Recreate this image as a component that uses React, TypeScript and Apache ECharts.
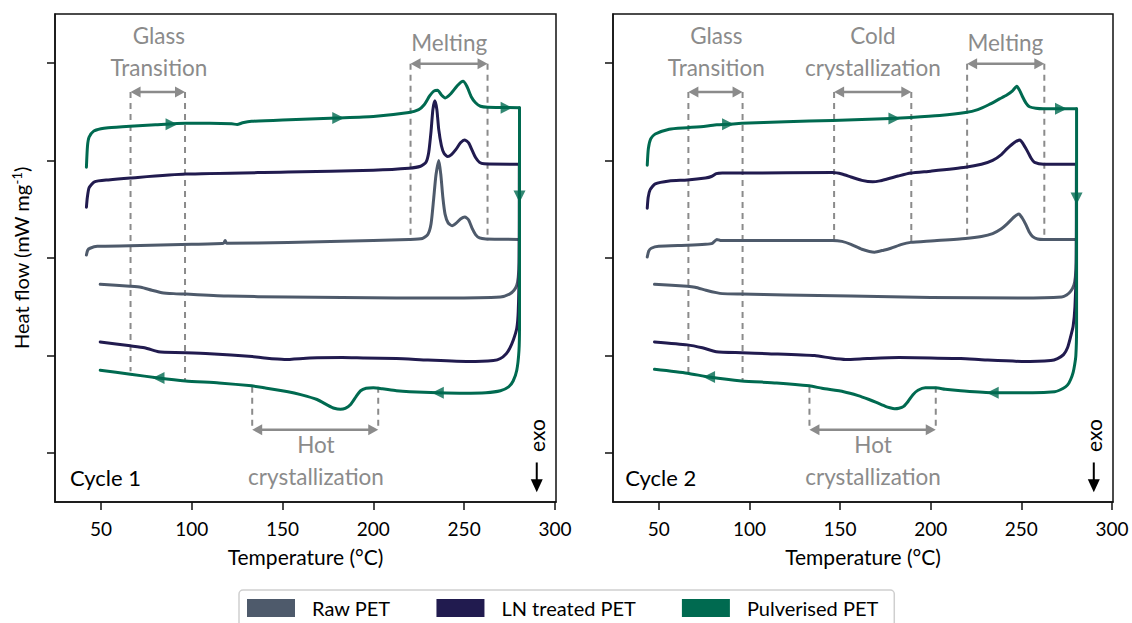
import { useEffect, useRef } from 'react';
import * as echarts from 'echarts';

// DSC traces: [temperature °C, heat flow (offset, a.u.)]
const SAMPLES = ['Raw PET', 'LN treated PET', 'Pulverised PET'];
const COLORS = ['#4e5a6b', '#211b4f', '#006a50'];
const X_TICKS = [50, 100, 150, 200, 250, 300];
const Y_TICKS = [0, 1, 2, 3, 4];

// ---- Cycle 1 ----
const raw1Heat = [
  [42, 2.03], [42.7, 2.08], [44, 2.1], [48, 2.12], [66, 2.125], [100, 2.14], [117.5, 2.15], [118.4, 2.18],
  [119.2, 2.15], [153, 2.16], [200, 2.18], [219.6, 2.19], [227, 2.2], [230, 2.24], [231.8, 2.35], [233.2, 2.6],
  [234.5, 2.85], [236.1, 3.0], [237.2, 2.85], [238.3, 2.62], [239.5, 2.45], [241.2, 2.36], [243.4, 2.33],
  [245.5, 2.355], [248, 2.4], [250.4, 2.42], [252.5, 2.39], [254.5, 2.3], [256.3, 2.24], [258.5, 2.205],
  [262, 2.195], [280.4, 2.19],
];
const raw1Cool = [
  [280.4, 2.19], [280.3, 1.95], [279.8, 1.8], [279, 1.72], [277.5, 1.67], [275, 1.63], [270, 1.6], [240, 1.59],
  [212.7, 1.59], [153, 1.6], [120, 1.61], [96.6, 1.63], [90, 1.635], [83.6, 1.645], [78, 1.67], [72, 1.7],
  [66, 1.71], [49.6, 1.73],
];
const ln1Heat = [
  [42, 2.52], [42.5, 2.62], [43.5, 2.72], [46.4, 2.78], [54, 2.8], [66.2, 2.82], [96.6, 2.86], [153, 2.88],
  [200, 2.9], [219.6, 2.92], [226, 2.94], [229, 2.98], [230.5, 3.08], [231.8, 3.3], [232.8, 3.52], [233.9, 3.61],
  [235, 3.52], [236, 3.32], [237.5, 3.15], [239, 3.07], [241, 3.04], [243, 3.06], [245.4, 3.11], [248, 3.18],
  [250.4, 3.21], [252.5, 3.18], [254.5, 3.1], [256.3, 3.03], [258.5, 2.98], [261, 2.965], [280.4, 2.96],
];
const ln1Cool = [
  [280.4, 2.96], [280.3, 1.9], [279.8, 1.45], [279, 1.28], [277.1, 1.16], [275, 1.07], [273.2, 1.02], [270, 0.97],
  [266.2, 0.95], [252.4, 0.94], [230, 0.955], [212.7, 0.97], [195, 0.975], [182.9, 0.98], [165, 0.975],
  [151, 0.96], [140, 0.975], [133.3, 0.99], [110, 1.02], [96.6, 1.03], [85, 1.035], [81.7, 1.04], [74, 1.08],
  [66.2, 1.1], [49.6, 1.14],
];
const pul1Heat = [
  [42, 2.93], [42.6, 3.15], [43.5, 3.24], [46, 3.3], [50, 3.325], [54, 3.335], [66, 3.35], [80, 3.365],
  [96.6, 3.38], [110, 3.38], [122, 3.375], [125, 3.368], [128, 3.385], [133, 3.4], [150, 3.415], [180, 3.435],
  [200, 3.45], [219.6, 3.49], [225, 3.52], [228, 3.57], [231, 3.66], [233.3, 3.71], [235.4, 3.72],
  [237.5, 3.67], [239.6, 3.64], [242.5, 3.68], [246.5, 3.77], [249.4, 3.81], [251.5, 3.76], [254, 3.65],
  [256.3, 3.59], [259, 3.555], [263, 3.545], [280.5, 3.54],
];
const pul1Cool = [
  [280.5, 3.54], [280.5, 1.3], [280.2, 1.05], [279, 0.85], [277, 0.74], [274.5, 0.68], [270, 0.64], [262, 0.62],
  [250, 0.615], [235.5, 0.62], [220, 0.63], [212.7, 0.64], [205, 0.66], [200, 0.67], [196, 0.665], [193, 0.64],
  [190.5, 0.58], [187.5, 0.5], [184.5, 0.46], [181.9, 0.45], [178.5, 0.46], [175, 0.49], [169, 0.55],
  [160, 0.6], [153, 0.63], [140, 0.67], [133, 0.69], [115, 0.72], [96.6, 0.74], [81.7, 0.77], [66.2, 0.81],
  [49.6, 0.85],
];

// ---- Cycle 2 ----
const raw2Heat = [
  [43.6, 2.01], [44.4, 2.07], [45.8, 2.1], [49.9, 2.12], [65.7, 2.13], [75.7, 2.14], [79.5, 2.15], [82, 2.19],
  [84, 2.18], [100, 2.18], [146, 2.18], [151, 2.17], [156, 2.14], [162, 2.09], [169, 2.06], [174, 2.08],
  [178, 2.1], [184, 2.14], [189, 2.16], [200, 2.175], [219.2, 2.2], [228, 2.22], [234.2, 2.25], [239, 2.3],
  [242.2, 2.35], [246, 2.42], [248.7, 2.45], [250.5, 2.41], [252.3, 2.35], [254.3, 2.27], [256.3, 2.22],
  [259, 2.195], [262.3, 2.19], [280.4, 2.19],
];
const raw2Cool = [
  [280.4, 2.19], [280.3, 1.95], [279.8, 1.8], [279, 1.72], [277.3, 1.66], [275, 1.62], [272.3, 1.6], [250, 1.59],
  [200, 1.595], [156, 1.61], [120, 1.62], [95.7, 1.63], [85, 1.635], [81.7, 1.645], [76, 1.67], [70, 1.7],
  [65.7, 1.71], [47.6, 1.73],
];
const ln2Heat = [
  [43.6, 2.51], [44.1, 2.62], [45.2, 2.7], [48, 2.76], [55.7, 2.79], [65.7, 2.8], [75.7, 2.82], [79, 2.835],
  [81.7, 2.865], [85, 2.87], [95.7, 2.87], [146, 2.875], [151, 2.86], [156, 2.83], [162, 2.795], [168, 2.78],
  [172, 2.79], [176, 2.81], [182, 2.84], [189, 2.87], [200, 2.89], [219.2, 2.93], [228, 2.96], [234.2, 3.0],
  [239, 3.06], [242.2, 3.12], [246, 3.18], [249.2, 3.21], [251, 3.17], [253.2, 3.1], [255.5, 3.02],
  [257.3, 2.98], [262.3, 2.96], [280.4, 2.96],
];
const ln2Cool = [
  [280.4, 2.96], [280.3, 1.9], [279.6, 1.5], [278.6, 1.3], [277.3, 1.2], [275.5, 1.08], [273.3, 1.01],
  [270, 0.97], [266.3, 0.95], [250.3, 0.94], [230, 0.955], [216.6, 0.97], [200, 0.975], [182.6, 0.98],
  [165, 0.97], [153, 0.96], [145, 0.975], [136, 1.0], [110, 1.02], [95.7, 1.03], [81.7, 1.04], [74, 1.08],
  [65.7, 1.11], [47.6, 1.14],
];
const pul2Heat = [
  [43.6, 2.95], [44.2, 3.12], [45.5, 3.22], [48, 3.27], [55.7, 3.32], [65.7, 3.335], [75.7, 3.35], [82, 3.365],
  [88, 3.37], [95.7, 3.38], [120, 3.395], [146, 3.41], [178, 3.43], [189, 3.44], [205, 3.46], [219.2, 3.49],
  [226, 3.52], [232, 3.57], [238, 3.63], [242, 3.67], [245, 3.71], [247.5, 3.76], [249, 3.72], [250.5, 3.66],
  [252.5, 3.59], [254.5, 3.55], [258, 3.535], [262.3, 3.53], [280.5, 3.53],
];
const pul2Cool = [
  [280.5, 3.53], [280.5, 1.3], [280.1, 1.0], [279, 0.86], [278, 0.79], [276.3, 0.72], [274.4, 0.68],
  [271, 0.645], [268.4, 0.63], [256.3, 0.62], [234.2, 0.62], [216.6, 0.64], [208, 0.655], [202.8, 0.67],
  [197, 0.67], [193, 0.645], [190.2, 0.6], [187.5, 0.53], [185.1, 0.48], [182.5, 0.46], [180.1, 0.455],
  [177.5, 0.465], [175, 0.48], [170, 0.52], [166, 0.55], [160, 0.59], [152, 0.63], [140, 0.665], [133.1, 0.69],
  [115, 0.72], [95.7, 0.74], [77.7, 0.78], [65.7, 0.82], [47.6, 0.86],
];

// Scan-direction arrowheads on the Pulverised PET trace: [T, heat flow, direction]
const dir1 = [
  [88.9, 3.37, 'right'], [180.7, 3.435, 'right'], [273.4, 3.54, 'right'], [280.5, 2.63, 'down'],
  [81.7, 0.77, 'left'], [235.5, 0.62, 'left'],
];
const dir2 = [
  [88.2, 3.37, 'right'], [180, 3.43, 'right'], [271.9, 3.53, 'right'], [280.5, 2.61, 'down'],
  [77.7, 0.78, 'left'], [234.2, 0.62, 'left'],
];

// Transition markers: dashed guides [T, from, to], range arrows [T1, T2, level], labels [text, T, level]
const guides1 = [
  [66.3, 3.7, 0.84], [96.3, 3.7, 0.74], [220.5, 3.99, 2.18], [262.9, 3.99, 2.18], [133.3, 0.68, 0.24], [202.7, 0.68, 0.24],
];
const ranges1 = [[66.3, 96.3, 3.7], [220.5, 262.9, 3.99], [133.3, 202.7, 0.24]];
const labels1 = [['Glass\nTransition', 81.9, 4.12], ['Melting', 241.8, 4.21], ['Hot\ncrystallization', 168.4, -0.07]];
const guides2 = [
  [66.3, 3.7, 0.82], [96.2, 3.7, 0.74], [146.7, 3.7, 2.17], [189.3, 3.7, 2.17], [220.1, 3.99, 2.19],
  [262.7, 3.99, 2.19], [133.1, 0.68, 0.24], [202.8, 0.68, 0.24],
];
const ranges2 = [[66.3, 96.2, 3.7], [146.7, 189.3, 3.7], [220.1, 262.7, 3.99], [133.1, 202.8, 0.24]];
const labels2 = [
  ['Glass\nTransition', 81.7, 4.12], ['Cold\ncrystallization', 168.1, 4.12], ['Melting', 241.2, 4.21],
  ['Hot\ncrystallization', 168.2, -0.07],
];
const cycleNames = [['Cycle 1', 32.9, -0.25], ['Cycle 2', 31.4, -0.25]];
const exoMark = [290, 0.18, -0.095, -0.4]; // T, text level, arrow start, arrow tip

const FONT = 'Lato, "Open Sans", sans-serif';
const GREY = '#8b8b8b';

const panels = [
  { heat: [raw1Heat, ln1Heat, pul1Heat], cool: [raw1Cool, ln1Cool, pul1Cool], dir: dir1, guides: guides1, ranges: ranges1, labels: labels1 },
  { heat: [raw2Heat, ln2Heat, pul2Heat], cool: [raw2Cool, ln2Cool, pul2Cool], dir: dir2, guides: guides2, ranges: ranges2, labels: labels2 },
];

const ROT: Record<string, number> = { right: -90, left: 90, down: 180, up: 0 };

function buildOption() {
  const series: any[] = [];
  panels.forEach((p, pi) => {
    SAMPLES.forEach((name, si) => {
      [p.heat[si], p.cool[si]].forEach((data) => {
        series.push({
          type: 'line', name, xAxisIndex: pi, yAxisIndex: pi, data, showSymbol: false, smooth: 0.2,
          color: COLORS[si], lineStyle: { width: 3, color: COLORS[si], cap: 'round', join: 'round' },
          z: 2 + si, silent: true,
        });
      });
    });
    series.push({
      type: 'scatter', name: 'scan direction', xAxisIndex: pi, yAxisIndex: pi, symbol: 'triangle', symbolSize: [12, 12],
      itemStyle: { color: COLORS[2] }, z: 6, silent: true,
      data: p.dir.map((d) => ({ value: [d[0], d[1]], symbolRotate: ROT[d[2] as string] })),
    });
  });

  const grids = [
    { left: 55, top: 14, width: 501, height: 488 },
    { left: 613, top: 14, width: 500, height: 488 },
  ];
  return {
    animation: false,
    backgroundColor: '#fff',
    textStyle: { fontFamily: FONT },
    grid: grids.map((g) => ({ ...g, show: true, borderColor: '#111', borderWidth: 1.5, backgroundColor: 'transparent' })),
    xAxis: grids.map((_, i) => ({
      type: 'value', gridIndex: i, min: 24.7, max: 300.6,
      name: 'Temperature (°C)', nameLocation: 'middle', nameGap: 44,
      nameTextStyle: { fontSize: 21, color: '#000', fontFamily: FONT },
      axisLine: { show: true, onZero: false, lineStyle: { color: '#111', width: 1.5 } },
      axisTick: { show: true, length: 8, lineStyle: { color: '#111', width: 1.5 }, customValues: X_TICKS },
      axisLabel: { fontSize: 19, color: '#000', margin: 17, fontFamily: FONT, customValues: X_TICKS },
      splitLine: { show: false },
    })),
    yAxis: grids.map((_, i) => ({
      type: 'value', gridIndex: i, min: -0.5, max: 4.5,
      name: i === 0 ? 'Heat flow (mW mg{sup|-1})' : '', nameLocation: 'middle', nameGap: 23,
      nameTextStyle: { fontSize: 20, color: '#000', fontFamily: FONT, rich: { sup: { fontSize: 13, padding: [0, 0, 9, 0], fontFamily: FONT, color: '#000' } } },
      axisLine: { show: true, onZero: false, lineStyle: { color: '#111', width: 1.5 } },
      axisTick: { show: true, length: 8, lineStyle: { color: '#111', width: 1.5 }, customValues: Y_TICKS },
      axisLabel: { show: false },
      splitLine: { show: false },
    })),
    legend: {
      data: SAMPLES.map((name) => ({ name, icon: 'rect' })),
      left: 239, top: 590, orient: 'horizontal',
      itemWidth: 48, itemHeight: 18, itemGap: 46,
      padding: [8, 16, 12, 8],
      borderColor: '#cfcfcf', borderWidth: 1.5, borderRadius: 4,
      textStyle: { fontSize: 20, color: '#000', fontFamily: FONT, padding: [0, 0, 0, 12] },
      selectedMode: false,
    },
    series,
  };
}

function buildAnnotations(chart: any) {
  const els: any[] = [];
  const px = (gi: number, t: number, v: number) => chart.convertToPixel({ gridIndex: gi }, [t, v]);
  panels.forEach((p, gi) => {
    p.guides.forEach(([t, a, b]) => {
      const p1 = px(gi, t, a);
      const p2 = px(gi, t, b);
      els.push({
        type: 'line', silent: true, z: 1,
        shape: { x1: p1[0], y1: p1[1], x2: p2[0], y2: p2[1] },
        style: { stroke: GREY, lineWidth: 2, lineDash: [6, 5] },
      });
    });
    p.ranges.forEach(([t1, t2, v]) => {
      const a = px(gi, t1, v);
      const b = px(gi, t2, v);
      const head = 10;
      const hw = 5.5;
      els.push({
        type: 'line', silent: true, z: 1,
        shape: { x1: a[0] + head - 1, y1: a[1], x2: b[0] - head + 1, y2: b[1] },
        style: { stroke: GREY, lineWidth: 2.5 },
      });
      els.push({
        type: 'polygon', silent: true, z: 1,
        shape: { points: [[a[0], a[1]], [a[0] + head, a[1] - hw], [a[0] + head, a[1] + hw]] },
        style: { fill: GREY },
      });
      els.push({
        type: 'polygon', silent: true, z: 1,
        shape: { points: [[b[0], b[1]], [b[0] - head, b[1] - hw], [b[0] - head, b[1] + hw]] },
        style: { fill: GREY },
      });
    });
    p.labels.forEach(([text, t, v]) => {
      const c = px(gi, t as number, v as number);
      els.push({
        type: 'text', silent: true, z: 1, x: c[0], y: c[1],
        style: { text, fill: GREY, font: `22.5px ${FONT}`, align: 'center', verticalAlign: 'middle', lineHeight: 32 },
      });
    });
    const cn = cycleNames[gi];
    const cp = px(gi, cn[1] as number, cn[2] as number);
    els.push({
      type: 'text', silent: true, x: cp[0], y: cp[1],
      style: { text: cn[0], fill: '#000', font: `22px ${FONT}`, align: 'left', verticalAlign: 'middle' },
    });
    const [et, ev, e1, e2] = exoMark;
    const ec = px(gi, et, ev);
    els.push({
      type: 'text', silent: true, x: ec[0], y: ec[1], rotation: Math.PI / 2,
      style: { text: 'exo', fill: '#000', font: `21px ${FONT}`, align: 'center', verticalAlign: 'middle' },
    });
    const s = px(gi, et, e1);
    const tip = px(gi, et, e2);
    els.push({
      type: 'line', silent: true,
      shape: { x1: s[0], y1: s[1], x2: tip[0], y2: tip[1] - 11 },
      style: { stroke: '#000', lineWidth: 2 },
    });
    els.push({
      type: 'polygon', silent: true,
      shape: { points: [[tip[0], tip[1]], [tip[0] - 6, tip[1] - 13], [tip[0] + 6, tip[1] - 13]] },
      style: { fill: '#000' },
    });
  });
  return els;
}

export default function App() {
  const ref = useRef<HTMLDivElement>(null);
  useEffect(() => {
    if (!ref.current) return;
    const chart = echarts.init(ref.current, undefined, { renderer: 'svg' });
    chart.setOption(buildOption() as any);
    chart.setOption({ graphic: { elements: buildAnnotations(chart) } } as any);
    return () => chart.dispose();
  }, []);
  return (
    <div
      ref={ref}
      style={{ position: 'fixed', left: 0, top: 0, width: 1132, height: 623, background: '#fff' }}
    />
  );
}
